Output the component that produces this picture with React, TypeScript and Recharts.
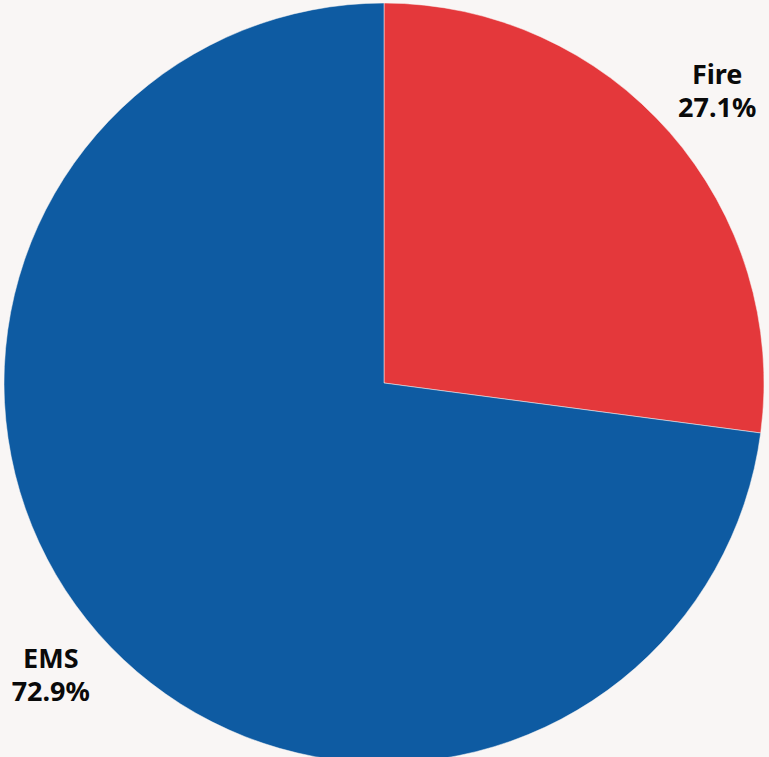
import { PieChart, Pie, Cell } from 'recharts'

const categories = ['Fire', 'EMS']
const shares = [27.1, 72.9]
const colors = ['#e4383b', '#0e5ba2']

const data = categories.map((name, i) => ({ name, value: shares[i] }))

const RADIAN = Math.PI / 180

function renderLabel(props: any) {
  const { cx, cy, midAngle, outerRadius, index } = props
  const r = outerRadius + 63
  const x = cx + r * Math.cos(-midAngle * RADIAN)
  const y = cy + r * Math.sin(-midAngle * RADIAN)
  return (
    <text
      x={x}
      y={y}
      textAnchor="middle"
      fill="#0a0a0a"
      fontFamily="'Noto Sans', sans-serif"
      fontWeight={700}
      fontSize={27}
    >
      <tspan x={x} dy={-7}>{categories[index]}</tspan>
      <tspan x={x} dy={33}>{shares[index].toFixed(1)}%</tspan>
    </text>
  )
}

export default function App() {
  return (
    <div style={{ position: 'fixed', top: 0, left: 0, width: 769, height: 757, background: '#f9f6f5' }}>
      <PieChart width={769} height={757} margin={{ top: 0, right: 0, bottom: 0, left: 0 }}>
        <Pie
          data={data}
          dataKey="value"
          nameKey="name"
          cx={384}
          cy={383}
          outerRadius={380}
          startAngle={90}
          endAngle={-270}
          stroke="#f9f6f5"
          strokeWidth={0.5}
          label={renderLabel}
          labelLine={false}
          isAnimationActive={false}
        >
          {data.map((d, i) => (
            <Cell key={d.name} fill={colors[i]} />
          ))}
        </Pie>
      </PieChart>
    </div>
  )
}
